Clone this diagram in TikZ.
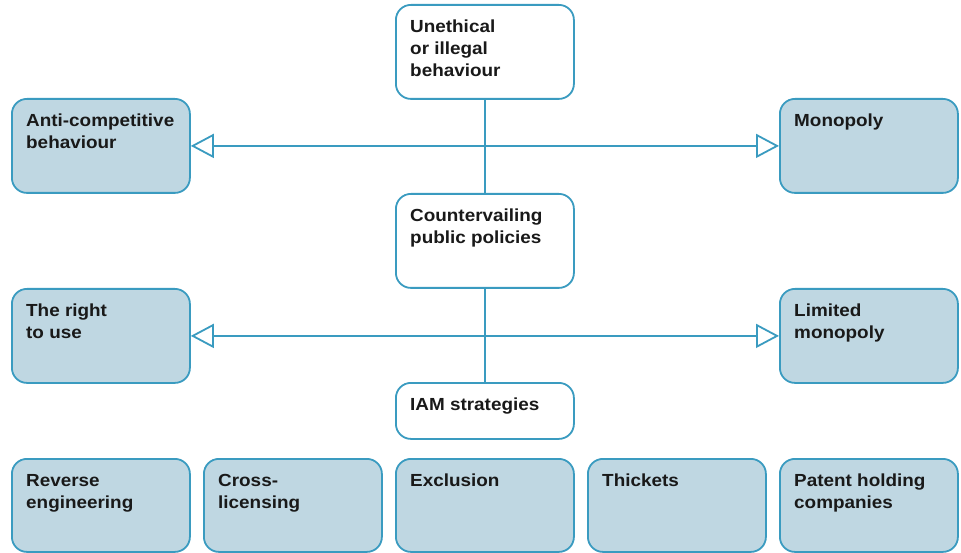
\documentclass[tikz,border=0pt]{standalone}
\usepackage{fontspec}
\setmainfont{Liberation Sans}[FakeStretch=1.08]
\usetikzlibrary{arrows.meta}
\definecolor{iamblue}{HTML}{3A9BC0}
\definecolor{iamfill}{HTML}{BFD7E2}
\begin{document}
\begin{tikzpicture}[x=1pt,y=-1pt]
            \tikzstyle{box}=[draw=iamblue, line width=1.8pt, rounded corners=15pt, minimum width=178pt, minimum height=94pt, inner sep=0pt, anchor=north west]
            \tikzstyle{dark}=[box, fill=iamfill]
            \tikzstyle{light}=[box, fill=white]
            \tikzstyle{lbl}=[anchor=north west, inner sep=0pt, align=left, font=\fontsize{17.5}{22}\selectfont\bfseries, text=black!90]
            \tikzstyle{link}=[draw=iamblue, line width=1.8pt]
            \tikzstyle{opentip}=[link, {Triangle[open, length=23pt, width=24pt, fill=white]}-{Triangle[open, length=23pt, width=24pt, fill=white]}]
                \useasboundingbox (0,0) rectangle (961,553);
                % middle column
                \node [light] (uneth) at (395,4) {};
                \node [lbl] at ([xshift=15pt,yshift=-16pt]uneth.north west) {Unethical\\or illegal\\behaviour};
                \node [light] (counter) at (395,193) {};
                \node [lbl] at ([xshift=15pt,yshift=-16pt]counter.north west) {Countervailing\\public policies};
                \node [light, minimum height=56pt] (iam) at (395,382) {};
                \node [lbl] at ([xshift=15pt,yshift=-16pt]iam.north west) {IAM strategies};
                % sides
                \node [dark] (anti) at (11,98) {};
                \node [lbl] at ([xshift=15pt,yshift=-16pt]anti.north west) {Anti-competitive\\behaviour};
                \node [dark] (mono) at (779,98) {};
                \node [lbl] at ([xshift=15pt,yshift=-16pt]mono.north west) {Monopoly};
                \node [dark] (right) at (11,288) {};
                \node [lbl] at ([xshift=15pt,yshift=-16pt]right.north west) {The right\\to use};
                \node [dark] (limited) at (779,288) {};
                \node [lbl] at ([xshift=15pt,yshift=-16pt]limited.north west) {Limited\\monopoly};
                % bottom row
                \node [dark, minimum height=93pt] (reverse) at (11,458) {};
                \node [lbl] at ([xshift=15pt,yshift=-16pt]reverse.north west) {Reverse\\engineering};
                \node [dark, minimum height=93pt] (cross) at (203,458) {};
                \node [lbl] at ([xshift=15pt,yshift=-16pt]cross.north west) {Cross-\\licensing};
                \node [dark, minimum height=93pt] (excl) at (395,458) {};
                \node [lbl] at ([xshift=15pt,yshift=-16pt]excl.north west) {Exclusion};
                \node [dark, minimum height=93pt] (thick) at (587,458) {};
                \node [lbl] at ([xshift=15pt,yshift=-16pt]thick.north west) {Thickets};
                \node [dark, minimum height=93pt] (patent) at (779,458) {};
                \node [lbl] at ([xshift=15pt,yshift=-16pt]patent.north west) {Patent holding\\companies};
                % connectors
                \draw [link] (uneth.south) -- (counter.north);
                \draw [link] (counter.south) -- (iam.north);
                \draw [opentip] (anti.east) -- (mono.west);
                \draw [opentip] (right.east) -- (limited.west);
            \end{tikzpicture}
\end{document}
